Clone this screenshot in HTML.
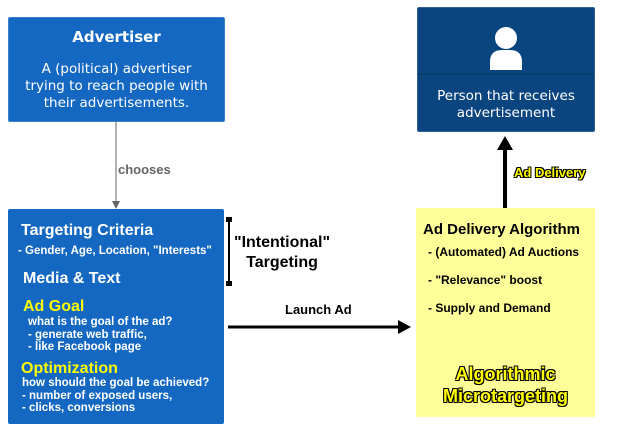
<!DOCTYPE html>
<html><head><meta charset="utf-8"><style>
body{margin:0;width:619px;height:428px;background:#fff;overflow:hidden;position:relative;font-family:"Liberation Sans",sans-serif}
.a{position:absolute}
.dv{font-family:"DejaVu Sans",sans-serif}
.w{color:#fff;font-weight:bold}
.y{color:#ffff00;font-weight:bold}
</style></head><body>
<div class="a dv" style="left:8px;top:17px;width:215px;height:103px;background:#1568c1;border:1px solid #3a80cc;border-radius:2px;color:#fff;text-align:center">
 <div style="font-weight:bold;font-size:15px;margin-top:10px">Advertiser</div>
 <div style="font-size:13.5px;line-height:17px;margin-top:15px">A (political) advertiser<br>trying to reach people with<br>their advertisements.</div>
</div>
<div class="a dv" style="left:417px;top:7px;width:176px;height:123px;background:#0b457f;border:1px solid #2f5f95;border-radius:2px;color:#fff;text-align:center">
 <svg class="a" style="left:0;top:0" width="176" height="70"><circle cx="88" cy="30" r="11" fill="#fff"/><path d="M72 62 v-8 q0-12 12-12 h8 q12 0 12 12 v8 z" fill="#fff"/><line x1="0" y1="66" x2="176" y2="66" stroke="#063560"/></svg>
 <div class="a" style="left:0;width:176px;top:80px;font-size:13.5px;line-height:17px">Person that receives<br>advertisement</div>
</div>
<svg class="a" style="left:0;top:0" width="619" height="428">
 <line x1="116" y1="121" x2="116" y2="202" stroke="#666" stroke-width="1"/>
 <path d="M112 201 L120 201 L116 209 Z" fill="#666"/>
 <line x1="229" y1="220" x2="229" y2="284" stroke="#000" stroke-width="2"/>
 <rect x="226" y="217" width="6" height="5" fill="#000"/><rect x="226" y="281" width="6" height="5" fill="#000"/>
 <line x1="228" y1="327" x2="400" y2="327" stroke="#000" stroke-width="3"/>
 <path d="M398 320 L411 327 L398 334 Z" fill="#000"/>
 <line x1="505" y1="208" x2="505" y2="148" stroke="#000" stroke-width="4"/>
 <path d="M497 150 L505 136 L513 150 Z" fill="#000"/>
</svg>
<div class="a" style="left:118px;top:162px;font-size:13px;font-weight:bold;color:#666" >chooses</div>
<div class="a" style="left:234px;top:233px;font-size:16px;font-weight:bold;text-align:center;line-height:20px">"Intentional"<br>Targeting</div>
<div class="a" style="left:285px;top:302px;font-size:13px;font-weight:bold">Launch Ad</div>
<div class="a" style="left:514px;top:165px;font-size:13px;font-weight:bold;color:#ffff00;text-shadow:-1px -1px 0 #000,1px -1px 0 #000,-1px 1px 0 #000,1px 1px 0 #000">Ad Delivery</div>
<div class="a" style="left:8px;top:209px;width:216px;height:215px;background:#1568c1;border-radius:2px">
 <div class="a w" style="left:13px;top:13px;font-size:16px">Targeting Criteria</div>
 <div class="a w" style="left:10px;top:36px;font-size:11.5px">- Gender, Age, Location, "Interests"</div>
 <div class="a w" style="left:15px;top:61px;font-size:16px">Media &amp; Text</div>
 <div class="a y" style="left:15px;top:89px;font-size:16px">Ad Goal</div>
 <div class="a w" style="left:20px;top:107px;font-size:11.5px;line-height:12.5px">what is the goal of the ad?<br>- generate web traffic,<br>- like Facebook page</div>
 <div class="a y" style="left:13px;top:151px;font-size:16px">Optimization</div>
 <div class="a w" style="left:14px;top:168px;font-size:11.5px;line-height:12.5px">how should the goal be achieved?<br>- number of exposed users,<br>- clicks, conversions</div>
</div>
<div class="a" style="left:416px;top:208px;width:179px;height:209px;background:#ffff99">
 <div class="a" style="left:7px;top:13px;font-size:15px;font-weight:bold">Ad Delivery Algorithm</div>
 <div class="a" style="left:12px;top:30px;font-size:12px;font-weight:bold;line-height:28px">- (Automated) Ad Auctions<br>- "Relevance" boost<br>- Supply and Demand</div>
 <div class="a" style="left:0;width:179px;top:155px;text-align:center;font-size:18px;font-weight:bold;line-height:22px;color:#ffff00;text-shadow:-1px -1px 0 #000,1px -1px 0 #000,-1px 1px 0 #000,1px 1px 0 #000,0 1px 0 #000,0 -1px 0 #000">Algorithmic<br>Microtargeting</div>
</div>
</body></html>
